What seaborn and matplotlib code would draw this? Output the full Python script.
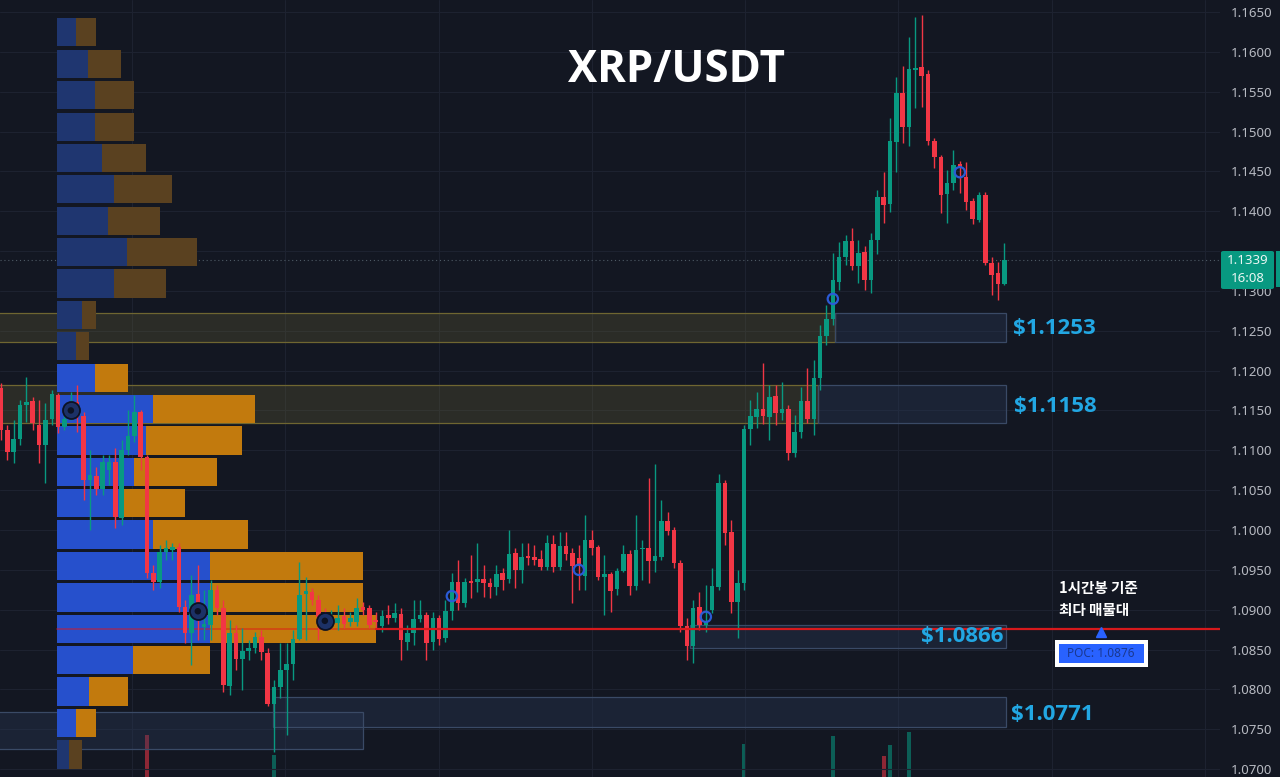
import numpy as np
import pandas as pd
import matplotlib
matplotlib.use("Agg")
import matplotlib.pyplot as plt
from matplotlib.patches import Rectangle, FancyBboxPatch
import seaborn as sns

# ---------------- data (1h candles, XRP/USDT) ----------------
opens = [1.1178, 1.1125, 1.1098, 1.1114, 1.1157, 1.1162, 1.1132, 1.1107, 1.1139, 1.1169,
         1.1129, 1.1143, 1.1160, 1.1143, 1.1063, 1.1068, 1.1051, 1.1075, 1.1085, 1.1015,
         1.1100, 1.1118, 1.1148, 1.1091, 1.0946, 1.0935, 1.0972, 1.0975, 1.0979, 1.0903,
         1.0871, 1.0920, 1.0878, 1.0881, 1.0925, 1.0902, 1.0804, 1.0871, 1.0838, 1.0848,
         1.0852, 1.0866, 1.0845, 1.0781, 1.0803, 1.0824, 1.0832, 1.0863, 1.0920, 1.0922,
         1.0912, 1.0893, 1.0886, 1.0883, 1.0892, 1.0884, 1.0884, 1.0903, 1.0902, 1.0887,
         1.0879, 1.0893, 1.0889, 1.0894, 1.0859, 1.0871, 1.0888, 1.0893, 1.0859, 1.0889,
         1.0864, 1.0898, 1.0935, 1.0908, 1.0936, 1.0935, 1.0938, 1.0933, 1.0928, 1.0946,
         1.0938, 1.0971, 1.0950, 1.0967, 1.0966, 1.0964, 1.0953, 1.0982, 1.0953, 1.0980,
         1.0971, 1.0965, 1.0942, 1.0987, 1.0979, 1.0941, 1.0945, 1.0926, 1.0949, 1.0970,
         1.0930, 1.0976, 1.0977, 1.0961, 1.0966, 1.1011, 1.1000, 1.0958, 1.0879, 1.0854,
         1.0903, 1.0881, 1.0899, 1.0928, 1.1059, 1.0997, 1.0909, 1.0933, 1.1127, 1.1142,
         1.1152, 1.1142, 1.1168, 1.1147, 1.1152, 1.1097, 1.1123, 1.1162, 1.1139, 1.1191,
         1.1243, 1.1265, 1.1311, 1.1342, 1.1363, 1.1331, 1.1349, 1.1314, 1.1364, 1.1418,
         1.1409, 1.1487, 1.1548, 1.1506, 1.1577, 1.1581, 1.1572, 1.1488, 1.1468, 1.1422,
         1.1435, 1.1459, 1.1443, 1.1413, 1.1389, 1.1420, 1.1335, 1.1322, 1.1309]
highs = [1.1184, 1.1132, 1.1138, 1.1163, 1.1192, 1.1167, 1.1163, 1.1159, 1.1176, 1.1172,
         1.1144, 1.1173, 1.1182, 1.1148, 1.1100, 1.1079, 1.1094, 1.1094, 1.1103, 1.1113,
         1.1150, 1.1169, 1.1150, 1.1094, 1.0956, 1.0981, 1.0987, 1.0984, 1.0984, 1.0912,
         1.0943, 1.0956, 1.0925, 1.0937, 1.0931, 1.0912, 1.0887, 1.0881, 1.0877, 1.0862,
         1.0872, 1.0874, 1.0852, 1.0812, 1.0858, 1.0858, 1.0874, 1.0960, 1.0941, 1.0927,
         1.0918, 1.0902, 1.0899, 1.0906, 1.0902, 1.0897, 1.0915, 1.0909, 1.0906, 1.0897,
         1.0899, 1.0906, 1.0908, 1.0902, 1.0881, 1.0912, 1.0912, 1.0897, 1.0897, 1.0893,
         1.0912, 1.0946, 1.0962, 1.0940, 1.0968, 1.0984, 1.0956, 1.0940, 1.0956, 1.0952,
         1.1000, 1.0977, 1.0984, 1.0984, 1.0981, 1.0975, 1.0994, 1.0994, 1.0997, 1.0997,
         1.0977, 1.0981, 1.1019, 1.1000, 1.0981, 1.0968, 1.0947, 1.0952, 1.0981, 1.0975,
         1.1019, 1.0987, 1.1065, 1.1083, 1.1038, 1.1022, 1.1004, 1.0962, 1.0889, 1.0912,
         1.0922, 1.0931, 1.0952, 1.1070, 1.1063, 1.1012, 1.0950, 1.1132, 1.1163, 1.1173,
         1.1209, 1.1182, 1.1182, 1.1186, 1.1157, 1.1144, 1.1179, 1.1203, 1.1213, 1.1257,
         1.1282, 1.1347, 1.1361, 1.1370, 1.1379, 1.1364, 1.1356, 1.1373, 1.1427, 1.1449,
         1.1517, 1.1568, 1.1582, 1.1619, 1.1644, 1.1646, 1.1577, 1.1492, 1.1470, 1.1452,
         1.1477, 1.1463, 1.1462, 1.1417, 1.1424, 1.1424, 1.1342, 1.1336, 1.1360]
lows = [1.1113, 1.1088, 1.1084, 1.1107, 1.1135, 1.1125, 1.1084, 1.1059, 1.1132, 1.1122,
        1.1125, 1.1138, 1.1123, 1.1038, 1.1000, 1.1044, 1.1044, 1.1056, 1.1002, 1.1006,
        1.1094, 1.1110, 1.1075, 1.0940, 1.0925, 1.0927, 1.0962, 1.0962, 1.0897, 1.0858,
        1.0830, 1.0862, 1.0862, 1.0862, 1.0893, 1.0797, 1.0793, 1.0824, 1.0799, 1.0837,
        1.0845, 1.0837, 1.0779, 1.0721, 1.0789, 1.0743, 1.0812, 1.0862, 1.0862, 1.0906,
        1.0862, 1.0877, 1.0881, 1.0874, 1.0877, 1.0879, 1.0879, 1.0893, 1.0877, 1.0877,
        1.0872, 1.0882, 1.0884, 1.0837, 1.0849, 1.0856, 1.0884, 1.0837, 1.0849, 1.0856,
        1.0859, 1.0887, 1.0899, 1.0903, 1.0915, 1.0922, 1.0916, 1.0915, 1.0918, 1.0925,
        1.0933, 1.0927, 1.0933, 1.0956, 1.0956, 1.0950, 1.0950, 1.0947, 1.0950, 1.0962,
        1.0908, 1.0925, 1.0925, 1.0968, 1.0937, 1.0893, 1.0897, 1.0918, 1.0947, 1.0918,
        1.0925, 1.0937, 1.0933, 1.0947, 1.0962, 1.0994, 1.0952, 1.0872, 1.0837, 1.0833,
        1.0874, 1.0872, 1.0896, 1.0925, 1.0981, 1.0896, 1.0864, 1.0925, 1.1107, 1.1128,
        1.1133, 1.1113, 1.1132, 1.1138, 1.1088, 1.1091, 1.1115, 1.1134, 1.1119, 1.1176,
        1.1232, 1.1257, 1.1301, 1.1332, 1.1326, 1.1310, 1.1301, 1.1297, 1.1346, 1.1385,
        1.1399, 1.1449, 1.1486, 1.1482, 1.1529, 1.1531, 1.1483, 1.1454, 1.1398, 1.1385,
        1.1427, 1.1423, 1.1401, 1.1384, 1.1386, 1.1332, 1.1295, 1.1289, 1.1307]
closes = [1.1125, 1.1098, 1.1114, 1.1157, 1.1160, 1.1134, 1.1107, 1.1138, 1.1171, 1.1129,
          1.1139, 1.1157, 1.1142, 1.1063, 1.1069, 1.1051, 1.1085, 1.1085, 1.1016, 1.1100,
          1.1118, 1.1148, 1.1091, 1.0946, 1.0935, 1.0972, 1.0977, 1.0979, 1.0903, 1.0871,
          1.0918, 1.0906, 1.0882, 1.0925, 1.0902, 1.0805, 1.0871, 1.0838, 1.0848, 1.0852,
          1.0866, 1.0847, 1.0781, 1.0803, 1.0824, 1.0832, 1.0863, 1.0918, 1.0923, 1.0912,
          1.0891, 1.0884, 1.0891, 1.0889, 1.0882, 1.0889, 1.0902, 1.0899, 1.0881, 1.0884,
          1.0892, 1.0889, 1.0896, 1.0862, 1.0871, 1.0888, 1.0893, 1.0858, 1.0889, 1.0863,
          1.0898, 1.0935, 1.0908, 1.0935, 1.0933, 1.0938, 1.0933, 1.0928, 1.0945, 1.0937,
          1.0970, 1.0950, 1.0966, 1.0965, 1.0962, 1.0953, 1.0984, 1.0953, 1.0980, 1.0970,
          1.0955, 1.0955, 1.0987, 1.0977, 1.0941, 1.0945, 1.0923, 1.0949, 1.0970, 1.0930,
          1.0975, 1.0977, 1.0961, 1.0967, 1.1011, 1.0999, 1.0958, 1.0879, 1.0854, 1.0902,
          1.0881, 1.0884, 1.0930, 1.1059, 1.0996, 1.0909, 1.0933, 1.1127, 1.1143, 1.1152,
          1.1143, 1.1167, 1.1147, 1.1152, 1.1097, 1.1123, 1.1162, 1.1139, 1.1191, 1.1243,
          1.1265, 1.1314, 1.1342, 1.1363, 1.1331, 1.1347, 1.1314, 1.1364, 1.1418, 1.1408,
          1.1488, 1.1548, 1.1506, 1.1578, 1.1580, 1.1570, 1.1488, 1.1468, 1.1420, 1.1435,
          1.1458, 1.1454, 1.1411, 1.1390, 1.1420, 1.1335, 1.1320, 1.1309, 1.1339]

# visible volume bars (candle index, volume in arbitrary units)
vol_idx = [23, 43, 117, 131, 139, 140, 143]
vol_vals = [8.5, 6.5, 7.6, 8.4, 6.4, 7.5, 8.8]

# signal markers (candle index, price)
sig_idx = [11, 31, 51, 71, 91, 111, 131, 151]
sig_price = [1.1150, 1.0898, 1.0886, 1.0917, 1.0950, 1.0891, 1.1290, 1.1449]
sig_kind = ["dot", "dot", "dot", "ring", "ring", "ring", "ring", "ring"]

# volume profile rows (price level, buy volume, sell volume)
vp_price = [1.1625, 1.1585, 1.1546, 1.1506, 1.1467, 1.1428, 1.1388, 1.1349, 1.1309, 1.1270,
            1.1231, 1.1191, 1.1152, 1.1112, 1.1073, 1.1034, 1.0994, 1.0955, 1.0915, 1.0876,
            1.0837, 1.0797, 1.0758, 1.0718]
vp_up = [19, 31, 38, 38, 45, 57, 51, 70, 57, 25, 19, 38, 96, 89, 77, 66, 96, 153, 153, 153,
         76, 32, 19, 12]
vp_down = [20, 33, 39, 39, 44, 58, 52, 70, 52, 14, 13, 33, 102, 96, 83, 62, 95, 153, 153, 166,
           77, 39, 20, 13]
va_high, va_low = 1.1212, 1.0738
poc = 1.0876

# supply/demand zones: (low, high, x_start, x_end, kind)
zones = [
    (1.1236, 1.1272, -1, 131.3, "yellow"),
    (1.1236, 1.1272, 131.3, 158.3, "blue"),
    (1.1134, 1.1182, -1, 128.7, "yellow"),
    (1.1134, 1.1182, 128.7, 158.3, "blue"),
    (1.0852, 1.0881, 108.5, 158.3, "blue"),
    (1.0753, 1.0790, 42.8, 158.3, "blue"),
    (1.0725, 1.0772, -1, 57.0, "blue"),
]
zone_labels = ["$1.1253", "$1.1158", "$1.0866", "$1.0771"]

title = "XRP/USDT"
last_price = 1.1339
last_time = "16:08"
note_lines = ["1시간봉 기준", "최다 매물대"]

# ---------------- style ----------------
BG = "#131722"
GRID = "#1d2230"
UP = "#089981"
DN = "#f23645"

sns.set_theme(style="dark")
plt.rcParams.update({
    "figure.facecolor": BG, "axes.facecolor": BG, "savefig.facecolor": BG,
    "axes.edgecolor": BG,
})
plt.rcParams["font.family"] = ["Noto Sans", "DejaVu Sans"]
BOLD_FAM = ["Open Sans", "DejaVu Sans"]

W, H = 1280, 777
fx = lambda px: px / W
fy = lambda py: 1 - py / H

fig = plt.figure(figsize=(12.8, 7.77), dpi=100)
rect = [0, 0, 1220 / W, 1]
XLIM = (-0.157, 191.97)
YLIM = (1.0690, 1.16651)

# volume axis (behind)
axv = fig.add_axes(rect)
axv.set_facecolor(BG)
axv.set_xlim(*XLIM)
axv.set_ylim(4.3, 82.0)
axv.set_axis_off()
vcols = [UP if closes[i] >= opens[i] else DN for i in vol_idx]
axv.bar(vol_idx, vol_vals, width=0.6, color=vcols, alpha=0.55, linewidth=0)

ax = fig.add_axes(rect)
ax.set_facecolor("none")
ax.set_xlim(*XLIM)
ax.set_ylim(*YLIM)

# grid
ticks = np.round(np.arange(1.0700, 1.16501, 0.005), 4)
ax.set_yticks(ticks)
# the 1.1350 label sits under the last-price badge
ax.set_yticklabels(["" if abs(t - 1.135) < 1e-6 else f"{t:.4f}" for t in ticks])
ax.yaxis.tick_right()
ax.tick_params(axis="y", length=0, pad=8, labelcolor="#b7bac2", labelsize=9.5)
ax.set_xticks([])
for t in ticks:
    ax.axhline(t, color=GRID, lw=0.8, zorder=0)
for gx in [20.6, 44.7, 69.0, 93.1, 117.2, 141.3, 165.5, 189.6]:
    ax.axvline(gx, color=GRID, lw=0.8, zorder=0)
for s in ax.spines.values():
    s.set_visible(False)

# zones
for lo, hi, x0, x1, kind in zones:
    if kind == "yellow":
        fc, ec, a = "#6a6335", "#6f6631", 0.28
    else:
        fc, ec, a = "#2c3d5e", "#3a4a66", 0.32
    ax.add_patch(Rectangle((x0, lo), x1 - x0, hi - lo, facecolor=fc, alpha=a,
                           edgecolor="none", zorder=1))
    ax.add_patch(Rectangle((x0, lo), x1 - x0, hi - lo, facecolor="none",
                           edgecolor=ec, lw=0.9, zorder=1.1))

# volume profile
VP_LEFT = 8.82
VP_SCALE = 1 / 6.35
vp_up_a = np.array(vp_up) * VP_SCALE
vp_dn_a = np.array(vp_down) * VP_SCALE
for p, u, d in zip(vp_price, vp_up_a, vp_dn_a):
    inside = va_low <= p <= va_high
    cb = "#2650cc" if inside else "#1f3670"
    co = "#c27a0d" if inside else "#5a4120"
    ax.barh(p, u, left=VP_LEFT, height=0.00358, color=cb, linewidth=0, zorder=2)
    ax.barh(p, d, left=VP_LEFT + u, height=0.00358, color=co, linewidth=0, zorder=2)

poc_i = vp_price.index(poc)
poc_end = VP_LEFT + vp_up_a[poc_i] + vp_dn_a[poc_i]
ax.plot([VP_LEFT, poc_end], [poc, poc], color="#e0161a", lw=1.3, alpha=0.5, zorder=2.5)

# candles
idx = np.arange(len(opens))
o = np.array(opens); c = np.array(closes); h = np.array(highs); l = np.array(lows)
up = c >= o
cols = np.where(up, UP, DN)
ax.vlines(idx, l, h, colors=cols, lw=1.0, zorder=3)
body_lo = np.minimum(o, c)
body_h = np.maximum(np.abs(c - o), 0.00005)
ax.bar(idx, body_h, bottom=body_lo, width=0.72, color=cols, linewidth=0, zorder=3.2)

# POC line + current price line
ax.plot([poc_end, XLIM[1]], [poc, poc], color="#d7191c", lw=1.6, zorder=4)
ax.axhline(last_price, color="#4f5b66", lw=0.8, ls=(0, (1, 2.5)), zorder=1)

# signal markers
sig = pd.DataFrame({"i": sig_idx, "p": sig_price, "k": sig_kind})
dots = sig[sig.k == "dot"]
rings = sig[sig.k == "ring"]
sns.scatterplot(data=dots, x="i", y="p", ax=ax, s=150, color="#1c3166",
                edgecolor="#0c1224", linewidth=1.3, zorder=5, legend=False)
sns.scatterplot(data=dots, x="i", y="p", ax=ax, s=22, color="#0c1224",
                edgecolor="none", zorder=5.1, legend=False)
sns.scatterplot(data=rings, x="i", y="p", ax=ax, s=55, facecolor="none",
                edgecolor="#2b5bd6", linewidth=1.6, zorder=5, legend=False)
ax.set_xlabel(""); ax.set_ylabel("")

# POC marker triangle
ax.plot([173.2], [1.0872], marker="^", ms=7, color="#2962ff", zorder=6, clip_on=False)

# ---------------- texts ----------------
fig.text(fx(677), fy(70), title, ha="center", va="center", fontsize=31.5,
         weight="bold", color="white", family=BOLD_FAM)

lab_color = "#22a7e3"
fig.text(fx(1013), fy(329), zone_labels[0], ha="left", va="center", fontsize=16,
         weight="bold", color=lab_color, family=BOLD_FAM)
fig.text(fx(1014), fy(406), zone_labels[1], ha="left", va="center", fontsize=16,
         weight="bold", color=lab_color, family=BOLD_FAM)
fig.text(fx(1004), fy(637), zone_labels[2], ha="right", va="center", fontsize=16,
         weight="bold", color=lab_color, family=BOLD_FAM)
fig.text(fx(1011), fy(714), zone_labels[3], ha="left", va="center", fontsize=16,
         weight="bold", color=lab_color, family=BOLD_FAM)

kr = ["Noto Sans CJK KR", "DejaVu Sans"]
fig.text(fx(1059), fy(588), note_lines[0], ha="left", va="center", fontsize=10.5,
         weight="bold", color="white", family=kr)
fig.text(fx(1059), fy(610), note_lines[1], ha="left", va="center", fontsize=10.5,
         weight="bold", color="white", family=kr)

# POC label box
fig.patches.append(Rectangle((fx(1055), fy(667)), fx(93), 27 / H, facecolor="white",
                             edgecolor="none", transform=fig.transFigure, figure=fig))
fig.patches.append(Rectangle((fx(1059), fy(663)), fx(85), 19 / H, facecolor="#2962ff",
                             edgecolor="none", transform=fig.transFigure, figure=fig))
fig.text(fx(1101), fy(653.5), f"POC: {poc:.4f}", ha="center", va="center",
         fontsize=8.5, color="#1a3890")

# last price badge
fig.patches.append(FancyBboxPatch((fx(1221), fy(289)), fx(53), 38 / H,
                                  boxstyle="round,pad=0,rounding_size=0.002",
                                  facecolor=UP, edgecolor="none",
                                  transform=fig.transFigure, figure=fig))
fig.patches.append(Rectangle((fx(1276), fy(287)), fx(4), 36 / H, facecolor=UP,
                             edgecolor="none", transform=fig.transFigure, figure=fig))
fig.text(fx(1247.5), fy(261), f"{last_price:.4f}", ha="center", va="center",
         fontsize=9.5, weight="medium", color="#eaf6f3")
fig.text(fx(1247.5), fy(278), last_time, ha="center", va="center",
         fontsize=9.5, weight="medium", color="#eaf6f3")

fig.savefig("out.png", dpi=100, facecolor=BG)
